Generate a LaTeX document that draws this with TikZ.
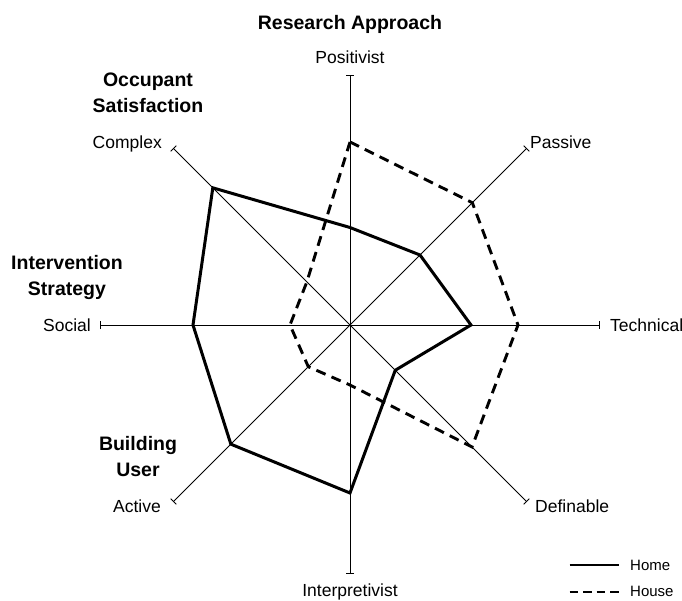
\documentclass[tikz,border=0pt]{standalone}
\usepackage{fontspec}
\setmainfont{Liberation Sans}
\usetikzlibrary{arrows.meta}
\tikzset{
  axisline/.style={line width=0.9pt, -{Bar[width=8pt,line width=0.9pt]}},
  homeline/.style={line width=3pt, line join=miter},
  houseline/.style={line width=2.9pt, dash pattern=on 10pt off 6.5pt, line join=miter},
  axlabel/.style={font=\fontsize{17.5}{20}\selectfont, inner sep=0pt},
  grplabel/.style={font=\fontsize{19.5}{26}\selectfont\bfseries, inner sep=0pt, align=center},
  leglabel/.style={font=\fontsize{15}{18}\selectfont, inner sep=0pt, anchor=west}
}
\begin{document}
\begin{tikzpicture}[x=1pt,y=1pt]
\useasboundingbox (-350,-275) rectangle (332,325);
\coordinate (O) at (0,0);
% axis ends
\coordinate (aN)  at (90:250);
\coordinate (aNE) at (45:250);
\coordinate (aE)  at (0:250);
\coordinate (aSE) at (-45:250);
\coordinate (aS)  at (-90:249);
\coordinate (aSW) at (-135:250);
\coordinate (aW)  at (180:250);
\coordinate (aNW) at (135:250);
\foreach \e in {aN,aNE,aE,aSE,aS,aSW,aW,aNW}
  \draw[axisline] (O) -- (\e);
% Home data
\coordinate (h1) at (90:97.5);
\coordinate (h2) at (45:99);
\coordinate (h3) at (0:121);
\coordinate (h4) at (-45:64);
\coordinate (h5) at (-90:168);
\coordinate (h6) at (-135:168.5);
\coordinate (h7) at (180:157);
\coordinate (h8) at (135:194);
\draw[homeline] (h1) -- (h2) -- (h3) -- (h4) -- (h5) -- (h6) -- (h7) -- (h8) -- cycle;
% House data
\coordinate (s1) at (90:183);
\coordinate (s2) at (45:173);
\coordinate (s3) at (0:168);
\coordinate (s4) at (-45:172.5);
\coordinate (s5) at (-90:60);
\coordinate (s6) at (-135:59);
\coordinate (s7) at (180:60);
\coordinate (s8) at (135:61);
\draw[houseline] (s1) -- (s2) -- (s3) -- (s4) -- (s5) -- (s6) -- (s7) -- (s8) -- cycle;
% axis labels
\node[axlabel, anchor=base] (lN) at (0,261.7) {Positivist};
\node[axlabel, anchor=base west] (lNE) at (180,176.7) {Passive};
\node[axlabel, anchor=base west] (lE) at (260,-6.7) {Technical};
\node[axlabel, anchor=base west] (lSE) at (185,-187.7) {Definable};
\node[axlabel, anchor=base] (lS) at (0,-271.7) {Interpretivist};
\node[axlabel, anchor=base east] (lSW) at (-189,-187.7) {Active};
\node[axlabel, anchor=base east] (lW) at (-259,-6.7) {Social};
\node[axlabel, anchor=base east] (lNW) at (-188,176.7) {Complex};
% group labels
\node[grplabel, anchor=base] (gN) at (0,295.7) {Research Approach};
\node[grplabel, anchor=base] (gNW1) at (-202,238) {Occupant};
\node[grplabel, anchor=base] (gNW2) at (-202,212) {Satisfaction};
\node[grplabel, anchor=base] (gW1) at (-283,55.7) {Intervention};
\node[grplabel, anchor=base] (gW2) at (-283,29.5) {Strategy};
\node[grplabel, anchor=base] (gSW1) at (-212,-125) {Building};
\node[grplabel, anchor=base] (gSW2) at (-212,-151.7) {User};
% legend
\coordinate (lh1) at (219.5,-240);
\coordinate (lh2) at (268.5,-240);
\coordinate (ls1) at (219.5,-266.7);
\coordinate (ls2) at (268.5,-266.7);
\draw[homeline, line width=2.4pt] (lh1) -- (lh2);
\draw[houseline, line width=2.4pt, dash pattern=on 8.5pt off 5pt] (ls1) -- (ls2);
\node[leglabel] (tHome) at (280,-240) {Home};
\node[leglabel] (tHouse) at (280,-266.7) {House};
\end{tikzpicture}
\end{document}
